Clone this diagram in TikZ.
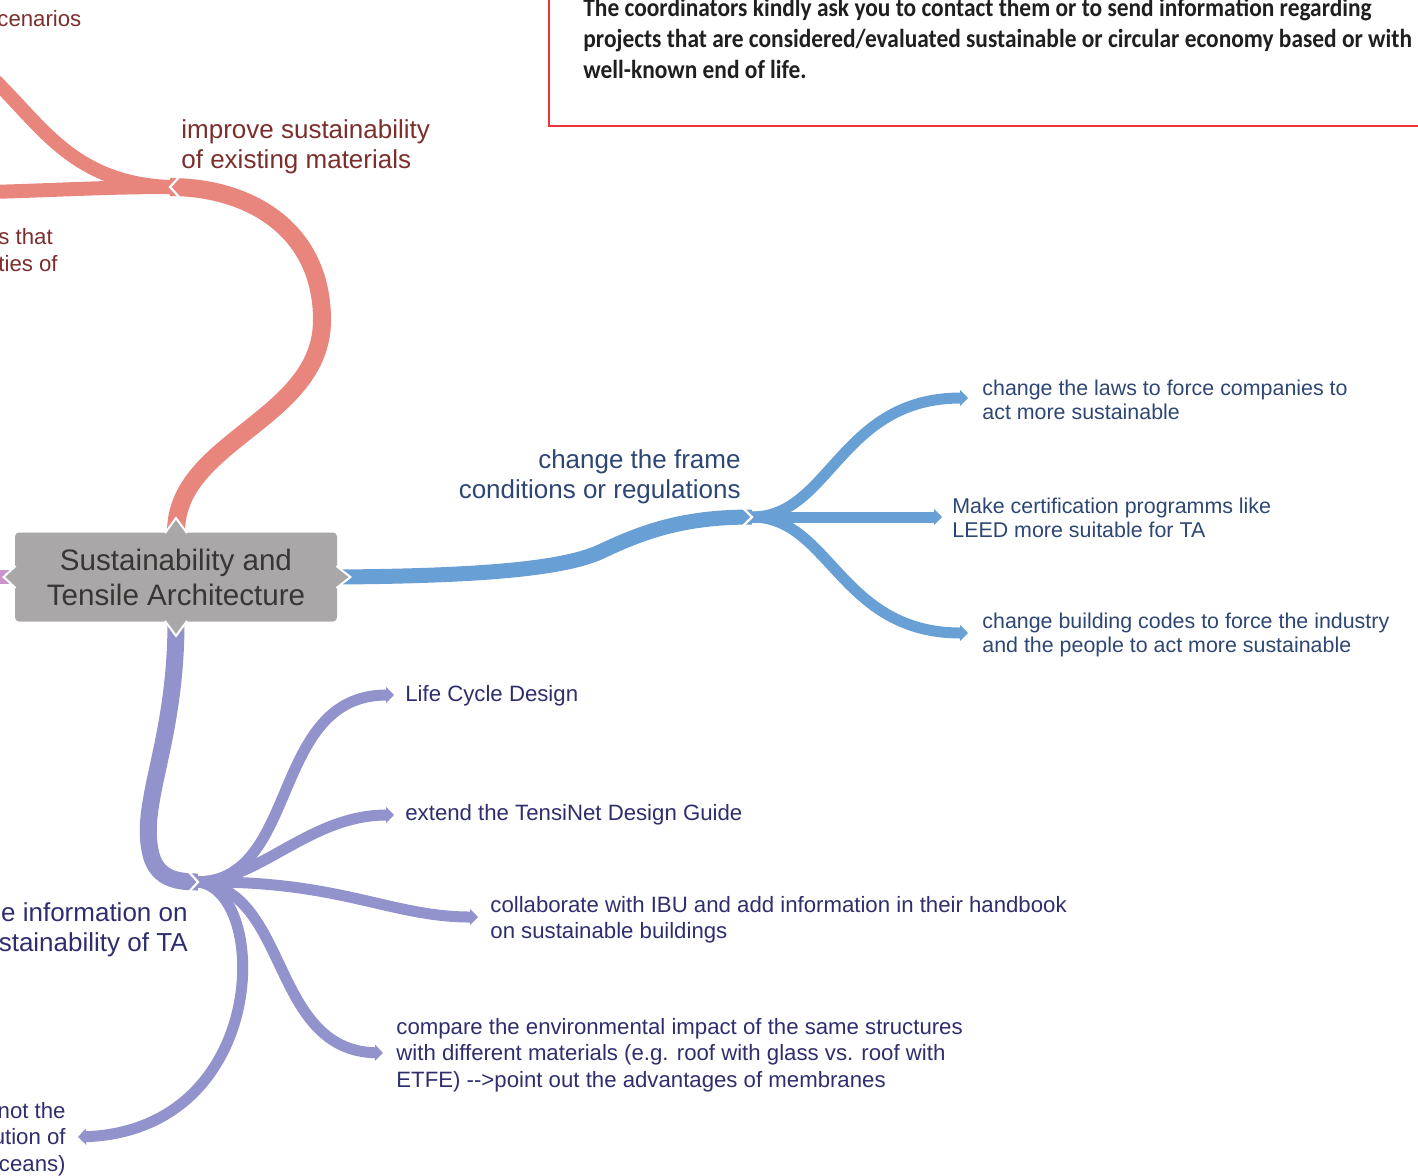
\documentclass[tikz,border=0pt]{standalone}
\usepackage{fontspec}
\setmainfont{Liberation Sans}
\newfontfamily\boxfont[FakeStretch=0.9]{Carlito}
\usetikzlibrary{arrows.meta,positioning}

\definecolor{astred}{HTML}{E8867D}
\definecolor{astblue}{HTML}{68A0D6}
\definecolor{astpurple}{HTML}{9292CC}
\definecolor{txtred}{HTML}{7B2E2B}
\definecolor{txtblue}{HTML}{2D4673}
\definecolor{txtpurple}{HTML}{2E2E6E}
\definecolor{rootgray}{HTML}{A9A7A7}
\definecolor{roottext}{HTML}{383535}
\definecolor{boxred}{HTML}{E8343A}
\definecolor{astpink}{HTML}{C994C9}

\begin{document}
\begin{tikzpicture}[x=0.5pt, y=-0.5pt,
    root/.style={fill=rootgray, text=roottext, rounded corners=2pt, inner sep=0pt,
        minimum width=161pt, minimum height=44.5pt, align=center,
        font=\fontsize{14.8}{17.5}\selectfont},
    notch/.style={fill=rootgray, draw=white, line width=1pt},
    chev/.style={draw=white, line width=1.1pt},
    tip/.style={-{Triangle[length=4pt, width=0pt 1.45]}},
    redmain/.style={draw=astred, line width=9pt},
    redkid/.style={draw=astred, line width=7pt},
    bluemain/.style={draw=astblue, line width=7.5pt},
    bluekid/.style={draw=astblue, line width=5.5pt, tip},
    purplemain/.style={draw=astpurple, line width=8.5pt},
    purplekid/.style={draw=astpurple, line width=5.5pt, tip},
    branch/.style={inner sep=0pt, font=\fontsize{13}{15}\selectfont},
    leaf/.style={inner sep=0pt, align=left, font=\fontsize{10.7}{12.3}\selectfont},
    pleaf/.style={inner sep=0pt, align=left, font=\fontsize{11.1}{13.2}\selectfont},
]
\clip (0,0) rectangle (1418,1175);

% Zentraler Knoten
\node[root] (root) at (176,577) {Sustainability and\\Tensile Architecture};

% Verzweigungen
\coordinate (rj) at (170,187);
\coordinate (bj) at (752,517);
\coordinate (pj) at (198,882);

% Ast rot
\coordinate (r1) at (-10,192);
\coordinate (r2) at (-12,74);
\draw[redkid] (rj) .. controls (110,187) and (60,190) .. (r1);
\draw[redkid] (rj) .. controls (70,183) and (40,122) .. (r2);
\draw[redmain] (root.north) .. controls (176,440) and (322,420) .. (322,320)
    .. controls (322,230) and (250,187) .. (rj);
\draw[chev] ([shift={(10,-11)}]rj) -- (rj) -- ([shift={(10,11)}]rj);

% Ast blau
\coordinate (b1) at (968,398);
\coordinate (b2) at (942,517);
\coordinate (b3) at (968,633);
\draw[bluekid] (bj) .. controls (830,517) and (840,398) .. (b1);
\draw[bluekid] (bj) -- (b2);
\draw[bluekid] (bj) .. controls (830,517) and (840,633) .. (b3);
\draw[bluemain] (root.east) .. controls (470,576) and (560,570) .. (600,552)
    .. controls (650,528) and (690,517) .. (bj);
\draw[chev] ([shift={(-10,-10)}]bj) -- (bj) -- ([shift={(-10,10)}]bj);

% Ast lila
\coordinate (p1) at (394,695);
\coordinate (p2) at (394,815);
\coordinate (p3) at (478,917);
\coordinate (p4) at (383,1053);
\coordinate (p5) at (78,1137);
\draw[purplekid] (pj) .. controls (300,880) and (270,695) .. (p1);
\draw[purplekid] (pj) .. controls (260,880) and (310,815) .. (p2);
\draw[purplekid] (pj) .. controls (340,880) and (390,917) .. (p3);
\draw[purplekid] (pj) .. controls (290,890) and (270,1050) .. (p4);
\draw[purplekid] (pj) .. controls (270,890) and (270,1130) .. (p5);
\draw[purplemain] (root.south) .. controls (176,740) and (140,800) .. (150,850)
    .. controls (155,878) and (175,882) .. (pj);
\draw[chev] ([shift={(-10,-11)}]pj) -- (pj) -- ([shift={(-10,11)}]pj);

% Ast links
\coordinate (l1) at (-20,577);
\draw[draw=astpink, line width=7pt] (root.west) -- (l1);

% Spitzen am Knoten
\filldraw[notch] (root.north) ++(-11,1) -- ++(11,-15) -- ++(11,15);
\filldraw[notch] (root.south) ++(-11,-1) -- ++(11,15) -- ++(11,-15);
\filldraw[notch] (root.east) ++(-1,-11) -- ++(14,11) -- ++(-14,11);
\filldraw[notch] (root.west) ++(1,-11) -- ++(-12,11) -- ++(12,11);

% Texte rot
\node[branch, text=txtred, align=left, anchor=west] (improve) at (181,147)
    {improve sustainability\\of existing materials};
\node[pleaf, text=txtred, anchor=west] (scen) at (-3,19) {cenarios};
\node[pleaf, text=txtred, anchor=west] (prop) at (-2,250) {s that\\ties of};

% Texte blau
\node[branch, text=txtblue, align=right, anchor=east] (frame) at (741,477)
    {change the frame\\conditions or regulations};
\node[leaf, text=txtblue, anchor=west] (laws) at (982,400)
    {change the laws to force companies to\\act more sustainable};
\node[leaf, text=txtblue, anchor=west] (leed) at (952,518)
    {Make certification programms like\\LEED more suitable for TA};
\node[leaf, text=txtblue, anchor=west] (codes) at (982,635)
    {change building codes to force the industry\\and the people to act more sustainable};

% Texte lila
\node[branch, text=txtpurple, align=right, anchor=east] (info) at (188,930)
    {e information on\\stainability of TA};
\node[pleaf, text=txtpurple, anchor=west] (lcd) at (405,696) {Life Cycle Design};
\node[pleaf, text=txtpurple, anchor=west] (guide) at (405,815) {extend the TensiNet Design Guide};
\node[pleaf, text=txtpurple, anchor=west] (ibu) at (490,920)
    {collaborate with IBU and add information in their handbook\\on sustainable buildings};
\node[pleaf, text=txtpurple, anchor=west] (compare) at (396,1055)
    {compare the environmental impact of the same structures\\with different materials (e.g. roof with glass vs. roof with\\ETFE) -{}->point out the advantages of membranes};
\node[pleaf, text=txtpurple, align=right, anchor=east] (oceans) at (66,1139)
    {not the\\ution of\\ceans)};

% Hinweis oben rechts
\draw[boxred, line width=1pt] (549,-10) |- (1430,126);
\node[inner sep=0pt, anchor=north west, align=left, text=black!88,
    font=\boxfont\bfseries\fontsize{13}{15.5}\selectfont] (hinweis) at (583,-2)
    {The coordinators kindly ask you to contact them or to send information regarding\\
     projects that are considered/evaluated sustainable or circular economy based or with\\
     well-known end of life.};
\end{tikzpicture}
\end{document}
